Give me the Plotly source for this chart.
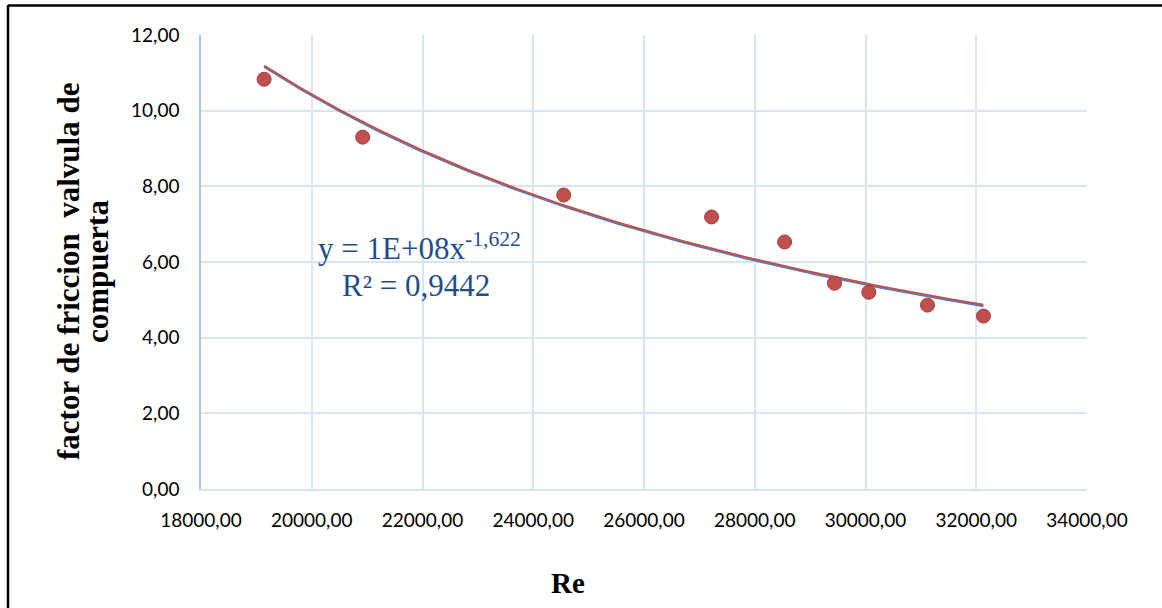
import numpy as np
import plotly.graph_objects as go

# Data
re_values = [19140, 20920, 24550, 27220, 28540, 29440, 30060, 31120, 32130]
friction_factor = [10.83, 9.30, 7.77, 7.19, 6.53, 5.44, 5.20, 4.86, 4.57]

x_ticks = [18000, 20000, 22000, 24000, 26000, 28000, 30000, 32000, 34000]
y_ticks = [0, 2, 4, 6, 8, 10, 12]

# Power trendline fitted to the data (Excel-style)
b, loga = np.polyfit(np.log(re_values), np.log(friction_factor), 1)
a = np.exp(loga)
xt = np.linspace(min(re_values), max(re_values), 200)
yt = a * xt ** b

W, H = 1162, 608
L, R, T, B = 201, 75, 35, 119
pw, ph = W - L - R, H - T - B

def px(xp):
    return (xp - L) / pw

def py(yp):
    return (H - B - yp) / ph

fig = go.Figure()
fig.add_trace(go.Scatter(x=xt, y=yt - 0.035, mode="lines",
                         line=dict(color="#4F81BD", width=2), hoverinfo="skip"))
fig.add_trace(go.Scatter(x=xt, y=yt, mode="lines",
                         line=dict(color="#C0504D", width=2), hoverinfo="skip"))
fig.add_trace(go.Scatter(x=re_values, y=friction_factor, mode="markers",
                         marker=dict(color="#C0504D", size=14,
                                     line=dict(color="#A23F3C", width=1))))

serif = "Liberation Serif, Times New Roman, serif"
fig.update_layout(
    width=W, height=H,
    margin=dict(l=L, r=R, t=T, b=B),
    paper_bgcolor="white", plot_bgcolor="white",
    showlegend=False,
    separators=",.",
    font=dict(family="Lato, Calibri, sans-serif", size=19, color="#000000"),
    xaxis=dict(range=[18000, 34000], tickvals=x_ticks, tickformat=".2f",
               showgrid=True, gridcolor="#D9E4F4", gridwidth=1.5,
               showline=True, linecolor="#D9E4F4", linewidth=1.5,
               zeroline=False, ticks="outside", ticklen=13, tickcolor="rgba(0,0,0,0)"),
    yaxis=dict(range=[0, 12], tickvals=y_ticks, tickformat=".2f",
               showgrid=True, gridcolor="#D9E4F4", gridwidth=1.5,
               showline=True, linecolor="#A9C4EC", linewidth=1.5,
               zeroline=False, ticks="outside", ticklen=16, tickcolor="rgba(0,0,0,0)"),
    shapes=[
        dict(type="line", xref="paper", yref="paper", x0=px(8), x1=px(1170),
             y0=py(5.5), y1=py(5.5), line=dict(color="black", width=2.5)),
        dict(type="line", xref="paper", yref="paper", x0=px(8), x1=px(8),
             y0=py(5), y1=py(620), line=dict(color="black", width=2.5)),
    ],
    annotations=[
        dict(text="<b>Re</b>", xref="paper", yref="paper", x=px(568), y=py(583),
             xanchor="center", yanchor="middle",
             showarrow=False, font=dict(family=serif, size=29, color="black")),
        dict(text="<b>factor de friccion  valvula de</b>", xref="paper",
             yref="paper", x=px(68), y=py(272), textangle=-90, showarrow=False,
             xanchor="center", yanchor="middle",
             font=dict(family=serif, size=31, color="black")),
        dict(text="<b>compuerta</b>", xref="paper",
             yref="paper", x=px(97), y=py(272), textangle=-90, showarrow=False,
             xanchor="center", yanchor="middle",
             font=dict(family=serif, size=31, color="black")),
        dict(text="y = 1E+08x<sup>-1,622</sup>", xref="paper", yref="paper",
             x=px(316), y=py(247), xanchor="left", yanchor="middle", showarrow=False,
             font=dict(family=serif, size=31, color="#1F4E8C")),
        dict(text="R² = 0,9442", xref="paper", yref="paper",
             x=px(340), y=py(285), xanchor="left", yanchor="middle", showarrow=False,
             font=dict(family=serif, size=31, color="#1F4E8C")),
    ],
)

fig.write_html("out.html")
